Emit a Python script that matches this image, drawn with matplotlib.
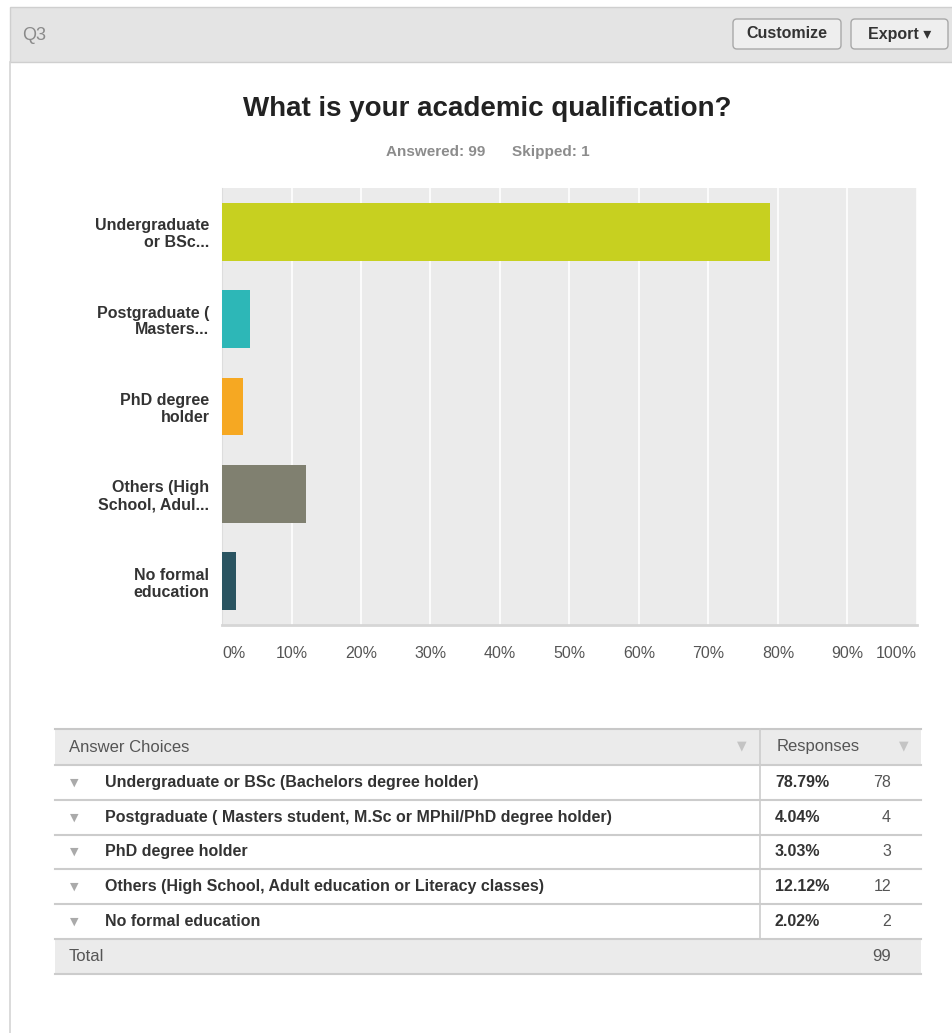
import matplotlib
matplotlib.use("Agg")
import matplotlib.pyplot as plt
from matplotlib.patches import Rectangle, FancyBboxPatch

plt.rcParams['font.family'] = ['Liberation Sans', 'DejaVu Sans']

question = "Q3"
title = "What is your academic qualification?"
answered = 99
skipped = 1
short_labels = ["Undergraduate\nor BSc...", "Postgraduate (\nMasters...", "PhD degree\nholder",
                "Others (High\nSchool, Adul...", "No formal\neducation"]
full_labels = ["Undergraduate or BSc (Bachelors degree holder)",
               "Postgraduate ( Masters student, M.Sc or MPhil/PhD degree holder)",
               "PhD degree holder",
               "Others (High School, Adult education or Literacy classes)",
               "No formal education"]
percents = [78.79, 4.04, 3.03, 12.12, 2.02]
counts = [78, 4, 3, 12, 2]
total = 99
bar_colors = ["#c7d020", "#2db7b7", "#f6a822", "#808070", "#2a5461"]
xticks = [0, 10, 20, 30, 40, 50, 60, 70, 80, 90, 100]

W, H = 953, 1033
fig = plt.figure(figsize=(W / 100, H / 100), dpi=100)
fig.patch.set_facecolor("white")

# page overlay in pixel coordinates
bg = fig.add_axes([0, 0, 1, 1])
bg.set_xlim(0, W)
bg.set_ylim(H, 0)
bg.axis("off")

# header band
bg.add_patch(Rectangle((10, 7), W, 55, facecolor="#e4e4e4", edgecolor="#cfcfcf", lw=1))
bg.plot([10, 10], [62, H], color="#d4d4d4", lw=1.2)
bg.text(22, 35, question, fontsize=13, color="#8a8a8a", va="center")

def button(x0, x1, label):
    bg.add_patch(FancyBboxPatch((x0, 19), x1 - x0, 30, boxstyle="round,pad=0,rounding_size=4",
                                facecolor="#eeeeee", edgecolor="#a8a8a8", lw=1))
    bg.text((x0 + x1) / 2, 34, label, fontsize=11.5, fontweight="bold", color="#333333",
            ha="center", va="center")

button(733, 841, "Customize")
button(851, 948, "Export \u25be")

bg.text(487, 109, title, fontsize=20, fontweight="bold", color="#222222", ha="center", va="center")
bg.text(436, 152, "Answered: %d" % answered, fontsize=11, fontweight="bold", color="#8c8c8c",
        ha="center", va="center")
bg.text(551, 152, "Skipped: %d" % skipped, fontsize=11, fontweight="bold", color="#8c8c8c",
        ha="center", va="center")

# bar chart
ax = fig.add_axes([222 / W, 1 - 625 / H, 695 / W, 437 / H])
ax.set_facecolor("#ebebeb")
pos = list(range(len(percents)))
ax.barh(pos, percents, height=0.66, color=bar_colors, zorder=3)
ax.set_xlim(0, 100)
ax.set_ylim(len(percents) - 0.5, -0.5)
ax.set_xticks(xticks)
ax.set_xticklabels(["%d%%" % t for t in xticks], fontsize=11.5, color="#555555")
ax.set_yticks(pos)
ax.set_yticklabels(short_labels, fontsize=11.5, fontweight="bold", color="#333333", linespacing=1.15)
ax.tick_params(axis="both", length=0)
ax.tick_params(axis="x", pad=15)
ax.tick_params(axis="y", pad=9)
tl = ax.get_xticklabels()
tl[0].set_ha("left")
tl[-1].set_ha("right")
ax.grid(axis="x", color="white", lw=1.2, zorder=1)
for s in ["top", "right"]:
    ax.spines[s].set_visible(False)
ax.spines["left"].set_color("#dddddd")
ax.spines["bottom"].set_color("#d6d6d6")
ax.spines["bottom"].set_linewidth(2)

# table
tx0, tx1 = 55, 921
row_h = 34.8
top = 729
bg.add_patch(Rectangle((tx0, top), tx1 - tx0, 36, facecolor="#ebebeb", edgecolor="none"))
bg.plot([tx0, tx1], [top, top], color="#c8c8c8", lw=1.5)
bg.text(69, top + 18, "Answer Choices", fontsize=12, color="#555555", va="center")
bg.text(777, top + 18, "Responses", fontsize=12, color="#555555", va="center")
bg.text(742, top + 17, "\u25bc", fontsize=9, color="#c4c4c4", ha="center", va="center",
        family="DejaVu Sans")
bg.text(904, top + 17, "\u25bc", fontsize=9, color="#c4c4c4", ha="center", va="center",
        family="DejaVu Sans")
y = top + 36
bg.plot([tx0, tx1], [y, y], color="#cccccc", lw=1.5)
for lab, p, c in zip(full_labels, percents, counts):
    yc = y + row_h / 2
    bg.text(74, yc, "\u25bc", fontsize=8, color="#aaaaaa", ha="center", va="center",
            family="DejaVu Sans")
    bg.text(105, yc, lab, fontsize=11.5, fontweight="bold", color="#333333", va="center")
    bg.text(775, yc, "%.2f%%" % p, fontsize=11.5, fontweight="bold", color="#333333", va="center")
    bg.text(891, yc, str(c), fontsize=11.5, color="#555555", ha="right", va="center")
    y += row_h
    bg.plot([tx0, tx1], [y, y], color="#cccccc", lw=1.5)
bg.plot([760, 760], [top, y], color="#cccccc", lw=1.2)
bg.add_patch(Rectangle((tx0, y + 1), tx1 - tx0, 34, facecolor="#ebebeb", edgecolor="none"))
bg.text(69, y + 18, "Total", fontsize=12, color="#555555", va="center")
bg.text(891, y + 18, str(total), fontsize=12, color="#555555", ha="right", va="center")
bg.plot([tx0, tx1], [y + 35, y + 35], color="#cccccc", lw=1.5)

fig.savefig("out.png", dpi=100)
